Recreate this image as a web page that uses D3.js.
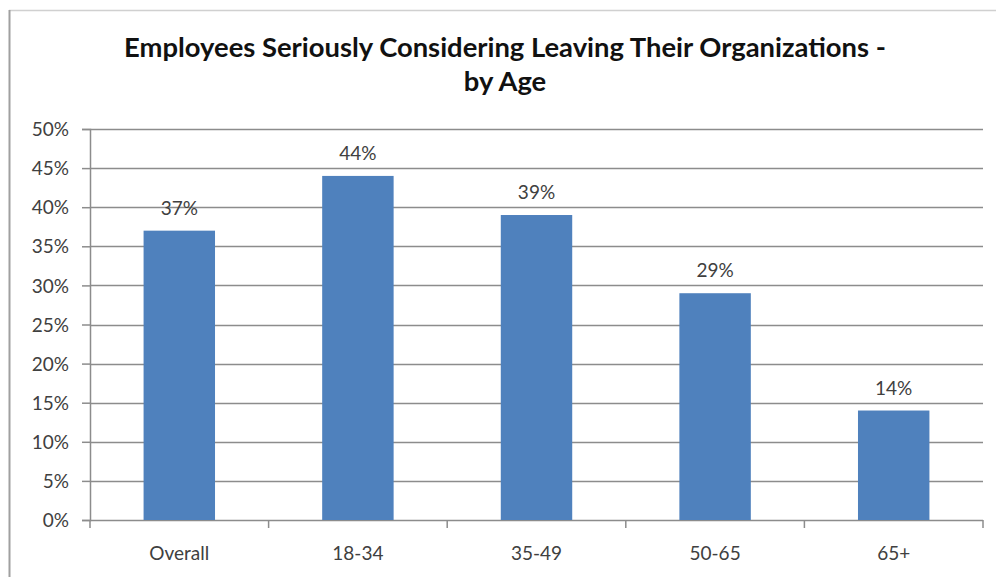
<!DOCTYPE html>
<html><head><meta charset="utf-8">
<script src="https://cdn.jsdelivr.net/npm/d3@7"></script>
<style>body{margin:0;background:#fff}svg{display:block}</style>
</head><body>
<svg id="c" width="996" height="577"></svg>
<script>
const categories = ["Overall", "18-34", "35-49", "50-65", "65+"];
const values = [37, 44, 39, 29, 14];
const yTicks = [0, 5, 10, 15, 20, 25, 30, 35, 40, 45, 50];
const titleLines = ["Employees Seriously Considering Leaving Their Organizations -", "by Age"];

(function () {
const svg = d3.select("#c");
const font = "Lato, 'Open Sans', sans-serif";
const pLeft = 90, pRight = 983, pTop = 129, pBottom = 520;
const lblSize = 19;

// frame
svg.append("line").attr("x1", 9).attr("x2", 996).attr("y1", 10.5).attr("y2", 10.5).attr("stroke", "#d0d0d0").attr("stroke-width", 1.5);
svg.append("line").attr("x1", 9.5).attr("x2", 9.5).attr("y1", 10).attr("y2", 577).attr("stroke", "#a0a0a0").attr("stroke-width", 2);

const x = d3.scaleBand().domain(categories).range([pLeft, pRight]).paddingInner(0.6).paddingOuter(0.3);
const y = d3.scaleLinear().domain([0, 50]).range([pBottom, pTop]);

// gridlines
svg.append("g").selectAll("line").data(yTicks.filter(d => d > 0)).join("line")
  .attr("x1", pLeft).attr("x2", pRight).attr("y1", d => Math.round(y(d)) + 0.5).attr("y2", d => Math.round(y(d)) + 0.5)
  .attr("stroke", "#8c8c8c").attr("stroke-width", 1.5);

// y axis
const yAxis = svg.append("g").attr("transform", `translate(${pLeft},0)`)
  .call(d3.axisLeft(y).tickValues(yTicks).tickFormat(d => d + "%").tickSize(8).tickPadding(13));
yAxis.select(".domain").attr("stroke", "#8c8c8c").attr("stroke-width", 1.5);
yAxis.selectAll(".tick line").attr("stroke", "#8c8c8c").attr("stroke-width", 1.5);
yAxis.selectAll("text").attr("font-family", font).attr("font-size", lblSize).attr("fill", "#404040").attr("dy", "0.35em");

// x axis
const band = (pRight - pLeft) / categories.length;
const xAxisG = svg.append("g");
xAxisG.append("line").attr("x1", pLeft).attr("x2", pRight).attr("y1", pBottom + 0.5).attr("y2", pBottom + 0.5).attr("stroke", "#8c8c8c").attr("stroke-width", 1.5);
xAxisG.selectAll("line.t").data(d3.range(categories.length + 1)).join("line").attr("class", "t")
  .attr("x1", i => pLeft + i * band).attr("x2", i => pLeft + i * band)
  .attr("y1", pBottom).attr("y2", pBottom + 8).attr("stroke", "#8c8c8c").attr("stroke-width", 1.5);
xAxisG.selectAll("text").data(categories).join("text")
  .attr("x", d => x(d) + x.bandwidth() / 2).attr("y", 560)
  .attr("text-anchor", "middle").attr("font-family", font).attr("font-size", lblSize).attr("fill", "#404040").text(d => d);

// bars
svg.append("g").selectAll("rect").data(values).join("rect")
  .attr("x", (d, i) => x(categories[i])).attr("width", x.bandwidth())
  .attr("y", d => y(d)).attr("height", d => y(0) - y(d))
  .attr("fill", "#4f81bd");

// value labels
svg.append("g").selectAll("text").data(values).join("text")
  .attr("x", (d, i) => x(categories[i]) + x.bandwidth() / 2).attr("y", d => y(d) - 16)
  .attr("text-anchor", "middle").attr("font-family", font).attr("font-size", lblSize).attr("fill", "#404040").text(d => d + "%");

// title
const t1 = svg.append("text").attr("x", 505).attr("y", 57).attr("text-anchor", "middle")
  .attr("font-family", font).attr("font-weight", "bold").attr("font-size", 23).attr("fill", "#111").text(titleLines[0]);
const w = t1.node().getComputedTextLength();
const fs = 23 * 762 / w;
t1.attr("font-size", fs);
svg.append("text").attr("x", 505).attr("y", 91).attr("text-anchor", "middle")
  .attr("font-family", font).attr("font-weight", "bold").attr("font-size", fs).attr("fill", "#111").text(titleLines[1]);
})();
</script>
</body></html>
